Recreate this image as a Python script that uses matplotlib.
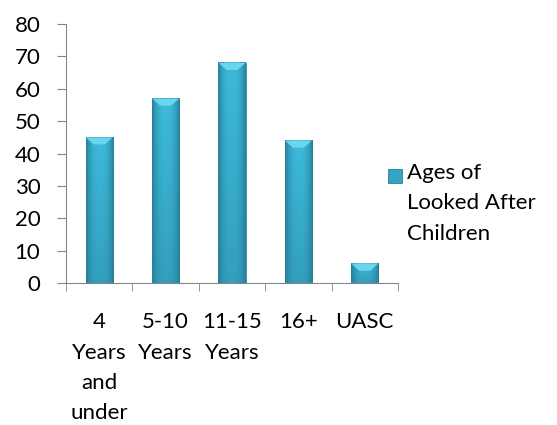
import matplotlib
matplotlib.use("Agg")
import matplotlib.pyplot as plt
import numpy as np
from matplotlib.patches import Polygon, Rectangle

categories = ["4\nYears\nand\nunder", "5-10\nYears", "11-15\nYears", "16+", "UASC"]
values = [45, 57, 68, 44, 6]
series_name = "Ages of\nLooked After\nChildren"

plt.rcParams["font.family"] = ["Lato", "DejaVu Sans"]
FS = 16

W, H = 557, 425
fig = plt.figure(figsize=(W / 100, H / 100), dpi=100)
ax = fig.add_axes([66 / W, 1 - 283 / H, 332 / W, 259 / H])

bar_w = 0.41
dark = np.array([0.15, 0.50, 0.60])
light = np.array([0.24, 0.73, 0.86])


def bar_image(n=60):
    # horizontal shading: dark edges, light middle; a bit darker towards base
    xs = np.linspace(-1, 1, n)
    hx = 1 - np.abs(xs) ** 2.5
    ys = np.linspace(0, 1, n)[:, None]
    t = hx[None, :] * (0.55 + 0.45 * ys)
    img = dark + (light - dark) * t[..., None]
    return img


img = bar_image()
for i, v in enumerate(values):
    x0, x1 = i - bar_w / 2, i + bar_w / 2
    ax.imshow(img, extent=[x0, x1, 0, v], origin="lower", aspect="auto", zorder=2)
    ax.add_patch(Rectangle((x0, 0), bar_w, v, fill=False, ec="#2a7f96", lw=0.6, zorder=3))
    bev = 2.2
    ax.add_patch(Polygon([(x0, v), (x1, v), (x1 - bar_w * 0.3, v - bev),
                          (x0 + bar_w * 0.3, v - bev)],
                         closed=True, fc="#6fdcf2", ec="none", alpha=0.9, zorder=4))

ax.set_xlim(-0.5, len(values) - 0.5)
ax.set_ylim(0, 80)
ax.set_yticks(range(0, 81, 10))
ax.set_xticks(range(len(values)))
ax.set_xticklabels(categories, linespacing=1.65, va="top")
ax.set_xticks(np.arange(-0.5, len(values), 1), minor=True)
ax.tick_params(axis="x", which="major", length=0, pad=21, labelsize=FS)
ax.tick_params(axis="x", which="minor", length=6, color="#868686", direction="out")
ax.tick_params(axis="y", length=6.5, color="#868686", labelsize=FS, pad=12)
for s in ("top", "right"):
    ax.spines[s].set_visible(False)
for s in ("left", "bottom"):
    ax.spines[s].set_color("#868686")
ax.set_facecolor("white")

# legend drawn by hand so the key sits beside the first line
fig.patches.append(Rectangle((388 / W, 1 - 183 / H), 14 / W, 14 / H,
                             transform=fig.transFigure, fc="#33a6c4", ec="#2a7f96", lw=0.6))
fig.text(407 / W, 1 - 163 / H, series_name, fontsize=FS, va="top", ha="left", linespacing=1.65)

fig.savefig("out.png", dpi=100)
